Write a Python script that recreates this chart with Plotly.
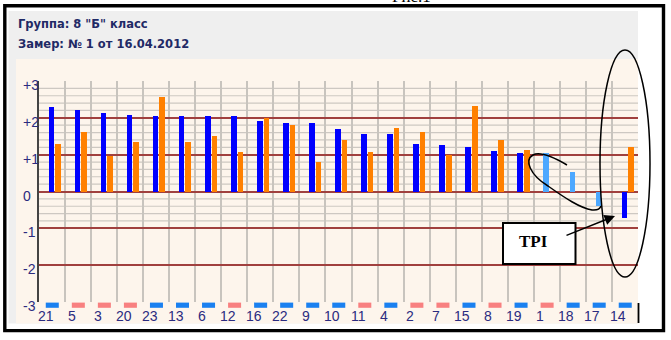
import plotly.graph_objects as go

# ---------------- data ----------------
labels = ["21", "5", "3", "20", "23", "13", "6", "12", "16", "22", "9", "10",
          "11", "4", "2", "7", "15", "8", "19", "1", "18", "17", "14"]
blue_vals = [2.30, 2.20, 2.14, 2.08, 2.05, 2.05, 2.05, 2.05, 1.92, 1.87, 1.87, 1.71,
             1.56, 1.56, 1.29, 1.25, 1.20, 1.10, 1.05, 1.05, 0.53, -0.38, -0.71]
orange_vals = [1.29, 1.62, 0.96, 1.35, 2.57, 1.35, 1.51, 1.08, 2.00, 1.81, 0.80, 1.41,
               1.08, 1.72, 1.62, 1.00, 2.32, 1.41, 1.14, None, None, None, 1.20]
blue_kind = ["d"] * 19 + ["l", "l", "l", "d"]
marker_kind = ["b", "p", "p", "p", "b", "b", "b", "p", "b", "b", "b", "b",
               "p", "b", "p", "p", "b", "p", "b", "p", "b", "b", "b"]
y_ticks = [3, 2, 1, 0, -1, -2, -3]
y_tick_text = ["+3", "+2", "+1", "0", "-1", "-2", "-3"]
title1 = "Группа: 8 \"Б\" класс"
title2 = "Замер: № 1 от 16.04.2012"

# ---------------- geometry helpers ----------------
W, H = 671, 340
L, R, T, B = 39, 638, 81, 302


def xp(px):
    return (px - L) / (R - L)


def yp(py):
    return (B - py) / (B - T)


NAVY = "#1f2a66"
TICK = "#2b2b80"
MAJOR = "#a0403e"
MINOR = "#cdc8c2"
BLUE = "#0000ff"
LIGHT = "#4da8ff"
ORANGE = "#ff8000"
MB = "#1a80f0"
MP = "#f88080"

n = len(labels)
xs = list(range(n))

fig = go.Figure()
fig.add_trace(go.Bar(
    x=xs, y=blue_vals, width=0.215, offset=-0.13,
    marker=dict(color=[BLUE if k == "d" else LIGHT for k in blue_kind], line=dict(width=0)),
    showlegend=False, hoverinfo="skip"))
fig.add_trace(go.Bar(
    x=xs, y=orange_vals, width=0.215, offset=0.125,
    marker=dict(color=ORANGE, line=dict(width=0)),
    showlegend=False, hoverinfo="skip"))

shapes = []
# panel backgrounds
shapes.append(dict(type="rect", xref="paper", yref="paper", layer="below",
                   x0=xp(8.5), x1=xp(638), y0=yp(11), y1=yp(323.5),
                   fillcolor="#efefef", line=dict(width=0)))
shapes.append(dict(type="rect", xref="paper", yref="paper", layer="below",
                   x0=xp(16), x1=xp(638), y0=yp(59), y1=yp(323.5),
                   fillcolor="#fdf5ec", line=dict(width=0)))
# minor gridlines (-1 .. +3, step 0.2)
for k in range(-5, 16):
    v = k * 0.2
    if abs(v - round(v)) < 1e-6:
        continue
    shapes.append(dict(type="line", xref="paper", yref="y", layer="below",
                       x0=0, x1=1, y0=v, y1=v, line=dict(color=MINOR, width=1.2)))
# category markers under the axis
for i, k in enumerate(marker_kind):
    shapes.append(dict(type="rect", xref="x", yref="paper", layer="above",
                       x0=i - 0.24, x1=i + 0.26, y0=yp(307.8), y1=yp(302.6),
                       fillcolor=MB if k == "b" else MP, line=dict(width=0)))
# right black tick line
shapes.append(dict(type="line", xref="paper", yref="paper", layer="above",
                   x0=xp(638.5), x1=xp(638.5), y0=yp(303), y1=yp(323),
                   line=dict(color="black", width=1.8)))
# big ellipse
shapes.append(dict(type="circle", xref="paper", yref="paper", layer="above",
                   x0=xp(600), x1=xp(650), y0=yp(50), y1=yp(277),
                   line=dict(color="black", width=1.5)))


# small curved loop
def P(x, y):
    return f"{xp(x):.5f},{yp(y):.5f}"


path = ("M" + P(567, 165) + " C" + P(555, 158) + " " + P(540, 151) + " " + P(533, 155)
        + " C" + P(524, 160) + " " + P(530, 175) + " " + P(548, 186)
        + " C" + P(565, 198) + " " + P(580, 208) + " " + P(592, 210)
        + " C" + P(597, 210.5) + " " + P(600, 209) + " " + P(601, 206))
shapes.append(dict(type="path", xref="paper", yref="paper", layer="above", path=path,
                   line=dict(color="black", width=1.5)))
# TPI box
shapes.append(dict(type="rect", xref="paper", yref="paper", layer="above",
                   x0=xp(503), x1=xp(575.5), y0=yp(223), y1=yp(264),
                   fillcolor="white", line=dict(color="black", width=2)))
# outer frame
shapes.append(dict(type="rect", xref="paper", yref="paper", layer="above",
                   x0=xp(4.8), x1=xp(663.5), y0=yp(5.8), y1=yp(330.6),
                   line=dict(color="black", width=3.4)))

ann = []
ann.append(dict(xref="paper", yref="paper", x=xp(16), y=yp(24), xanchor="left", yanchor="middle",
                text="<b>" + title1 + "</b>", showarrow=False,
                font=dict(family="DejaVu Sans", size=11.5, color=NAVY)))
ann.append(dict(xref="paper", yref="paper", x=xp(16), y=yp(44), xanchor="left", yanchor="middle",
                text="<b>" + title2 + "</b>", showarrow=False,
                font=dict(family="DejaVu Sans", size=11.5, color=NAVY)))
for v, t in zip(y_ticks, y_tick_text):
    ann.append(dict(xref="paper", yref="y", x=xp(21), y=v, yshift=-4, xanchor="left",
                    yanchor="middle", text=t, showarrow=False,
                    font=dict(family="Liberation Sans Narrow, Arial Narrow, Liberation Sans", size=14, color=TICK)))
for i, t in enumerate(labels):
    ann.append(dict(xref="x", yref="paper", x=i, xshift=-6.5, y=yp(315.5), xanchor="center",
                    yanchor="middle", text=t, showarrow=False,
                    font=dict(family="Liberation Sans Narrow, Arial Narrow, Liberation Sans", size=14, color=TICK)))
# TPI label and arrow
ann.append(dict(xref="paper", yref="paper", x=xp(533), y=yp(241), xanchor="center", yanchor="middle",
                text="<b>TPI</b>", showarrow=False,
                font=dict(family="Liberation Serif", size=17, color="black")))
ann.append(dict(xref="paper", yref="paper", x=xp(615), y=yp(216), text="", showarrow=True,
                axref="pixel", ayref="pixel", ax=-50, ay=20,
                arrowhead=2, arrowsize=1.4, arrowwidth=1.5, arrowcolor="black"))
# figure caption (cut at the top)
ann.append(dict(xref="paper", yref="paper", x=xp(411), y=yp(8), xanchor="center", yanchor="bottom",
                text="Рис.1", showarrow=False,
                font=dict(family="Liberation Serif", size=17, color="black")))

fig.update_layout(
    width=W, height=H,
    margin=dict(l=L, r=W - R, t=T, b=H - B, pad=0),
    paper_bgcolor="white", plot_bgcolor="rgba(0,0,0,0)",
    bargap=0, barmode="overlay",
    shapes=shapes, annotations=ann,
    xaxis=dict(range=[-0.5, n - 0.5], tickmode="linear", tick0=0.5, dtick=1,
               showgrid=True, gridcolor="#c8c4be", gridwidth=1.5,
               showticklabels=False, ticks="", zeroline=False, showline=False),
    yaxis=dict(range=[-3, 3], tickmode="array", tickvals=y_ticks,
               showgrid=True, gridcolor=MAJOR, gridwidth=1.8,
               showticklabels=False, ticks="", zeroline=False,
               showline=True, linecolor="#444444", linewidth=2),
)

fig.write_html("out.html")
